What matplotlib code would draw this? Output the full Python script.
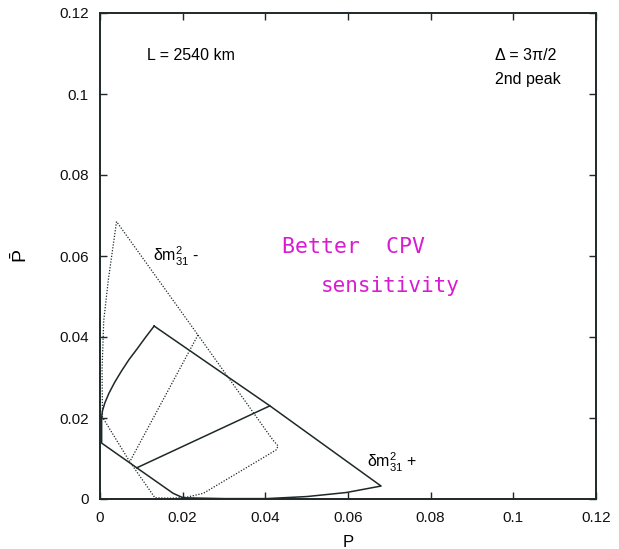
import matplotlib
matplotlib.use("Agg")
import matplotlib.pyplot as plt
import numpy as np

# Bi-probability contours (P, P-bar) at L = 2540 km, second oscillation peak
# Normal hierarchy (dm^2_31 > 0): closed outline, solid
nh_P    = [0.0131, 0.0110, 0.0090, 0.0070, 0.0052, 0.0036, 0.0022, 0.0012, 0.0006, 0.0004,
           0.0004, 0.0089, 0.0177, 0.0201, 0.0300, 0.0403, 0.0500, 0.0596, 0.0680, 0.0411, 0.0131]
nh_Pbar = [0.0427, 0.0399, 0.0371, 0.0344, 0.0316, 0.0289, 0.0262, 0.0238, 0.0218, 0.0203,
           0.0138, 0.0077, 0.0014, 0.0003, 0.0001, 0.0001, 0.0006, 0.0016, 0.0032, 0.0230, 0.0427]
# Normal hierarchy inner segment
nh_inner_P    = [0.0089, 0.0411]
nh_inner_Pbar = [0.0077, 0.0230]

# Inverted hierarchy (dm^2_31 < 0): closed outline, dotted
ih_P    = [0.0040, 0.0020, 0.0009, 0.0005, 0.0006, 0.0072, 0.0133, 0.0175, 0.0212,
           0.0250, 0.0426, 0.0431, 0.0418, 0.0237, 0.0040]
ih_Pbar = [0.0685, 0.0540, 0.0440, 0.0320, 0.0202, 0.0092, 0.0003, 0.0002, 0.0005,
           0.0014, 0.0121, 0.0131, 0.0146, 0.0405, 0.0685]
# Inverted hierarchy inner segment
ih_inner_P    = [0.0237, 0.0072]
ih_inner_Pbar = [0.0405, 0.0092]

ticks = [0, 0.02, 0.04, 0.06, 0.08, 0.1, 0.12]
tick_labels = ["0", "0.02", "0.04", "0.06", "0.08", "0.1", "0.12"]

plt.rcParams["font.family"] = ["Liberation Sans", "DejaVu Sans"]
plt.rcParams["mathtext.fontset"] = "custom"
plt.rcParams["mathtext.rm"] = "Liberation Sans"
plt.rcParams["mathtext.it"] = "Liberation Sans"

fig = plt.figure(figsize=(6.19, 5.49), dpi=100)
ax = fig.add_axes([100 / 619, 1 - 499 / 549, 496 / 619, 486 / 549])

ink = "#1e2828"
ax.plot(nh_P, nh_Pbar, color=ink, lw=1.1, solid_joinstyle="round")
ax.plot(nh_inner_P, nh_inner_Pbar, color=ink, lw=1.1)
dots = (0, (1.0, 1.3))
ax.plot(ih_P, ih_Pbar, color=ink, lw=0.9, linestyle=dots)
ax.plot(ih_inner_P, ih_inner_Pbar, color=ink, lw=0.9, linestyle=dots)

ax.set_xlim(0, 0.12)
ax.set_ylim(0, 0.12)
ax.set_xticks(ticks)
ax.set_xticklabels(tick_labels)
ax.set_yticks(ticks)
ax.set_yticklabels(tick_labels)
ax.tick_params(direction="in", top=True, right=True, length=5, width=1.0,
               labelsize=11, color=ink, labelcolor="#111111")
ax.tick_params(axis="x", pad=9)
ax.tick_params(axis="y", pad=8)
for s in ax.spines.values():
    s.set_linewidth(1.4)
    s.set_color(ink)

ax.set_xlabel("P", fontsize=12, labelpad=7)
ax.set_ylabel(r"$\bar{\mathrm{P}}$", fontsize=14, labelpad=20)

ax.text(0.0114, 0.1096, "L = 2540 km", fontsize=11.5, va="center", ha="left")
ax.text(0.0955, 0.1096, "Δ = 3π/2", fontsize=11.5, va="center", ha="left")
ax.text(0.0955, 0.1037, "2nd peak", fontsize=11.5, va="center", ha="left")
ax.text(0.0128, 0.0598, r"$\delta\mathrm{m}^2_{31}$ -", fontsize=11.5, va="center", ha="left")
ax.text(0.0647, 0.0091, r"$\delta\mathrm{m}^2_{31}$ +", fontsize=11.5, va="center", ha="left")

mag = "#d81cd0"
ax.text(0.0440, 0.0622, "Better  CPV", fontsize=15.5, color=mag,
        family="DejaVu Sans Mono", va="center", ha="left")
ax.text(0.0535, 0.0525, "sensitivity", fontsize=15, color=mag,
        family="DejaVu Sans Mono", va="center", ha="left")

fig.savefig("out.png", dpi=100)
